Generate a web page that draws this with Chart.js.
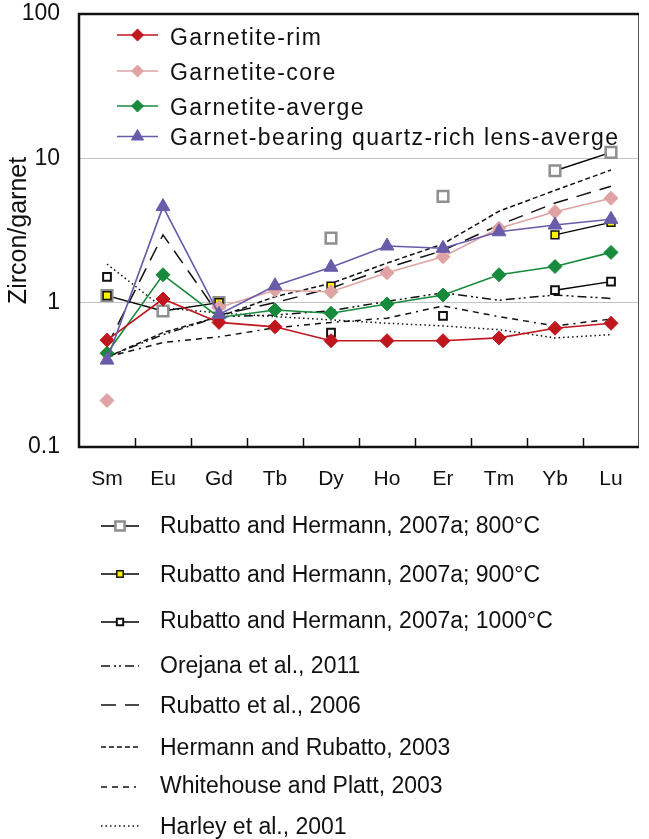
<!DOCTYPE html>
<html>
<head>
<meta charset="utf-8">
<script src="https://cdn.jsdelivr.net/npm/chart.js@4.4.1/dist/chart.umd.min.js"></script>
<style>
  html, body { margin: 0; padding: 0; background: #fff; }
</style>
</head>
<body>
<canvas id="ree" width="649" height="839"></canvas>
<script>
const elements = ["Sm", "Eu", "Gd", "Tb", "Dy", "Ho", "Er", "Tm", "Yb", "Lu"];
const yTicks = [0.1, 1, 10, 100];

// zircon/garnet partition coefficients, this study
const garnetiteRim  = [0.55, 1.06, 0.73, 0.68, 0.545, 0.545, 0.545, 0.57, 0.665, 0.72];
const garnetiteCore = [0.21, null, 0.93, 1.22, 1.19, 1.61, 2.08, 3.28, 4.27, 5.29];
const garnetiteAvg  = [0.446, 1.56, 0.79, 0.89, 0.845, 0.98, 1.13, 1.56, 1.78, 2.23];
const quartzLensAvg = [0.40, 4.63, 0.83, 1.31, 1.76, 2.47, 2.38, 3.1, 3.45, 3.78];

// literature experiments
const rh800  = [1.12, 0.875, 1.0, null, 2.8, null, 5.45, null, 8.2, 11.0];
const rh900  = [1.12, null, 1.0, null, 1.3, null, null, null, 2.95, 3.6];
const rh1000 = [1.51, null, null, null, 0.62, null, 0.81, null, 1.22, 1.40];

// literature natural samples
const orejana2011    = [0.42, 0.6, 0.8, 0.82, 0.88, 1.02, 1.17, 1.04, 1.13, 1.07];
const rubatto2006    = [0.5, 2.95, 0.82, 1.0, 1.26, 1.74, 2.3, 3.45, 4.9, 6.4];
const hermann2003    = [0.42, 0.62, 0.8, 1.1, 1.36, 1.88, 2.55, 4.3, 6.0, 8.3];
const whitehouse2003 = [0.42, 0.53, 0.58, 0.67, 0.73, 0.78, 0.95, 0.8, 0.69, 0.77];
const harley2001     = [1.85, 0.92, 0.85, 0.8, 0.76, 0.72, 0.69, 0.65, 0.57, 0.6];

const RED = "#C0161E", PINK = "#DFA3A3", GREEN = "#178A3C", PURPLE = "#6A5BAA";
const GREY = "#8F8F8F", YELLOW = "#FFF200";

function refLine(label, data, dash) {
  return {
    label: label, data: data,
    borderColor: "#111", borderWidth: 1.5, borderDash: dash,
    pointRadius: 0, pointHoverRadius: 0, spanGaps: false, order: 20
  };
}
function sample(label, data, color, style, radius, legendRadius) {
  return {
    label: label, data: data,
    borderColor: color, borderWidth: 1.6,
    pointStyle: style, pointRadius: radius, pointBackgroundColor: color,
    pointBorderColor: color, pointBorderWidth: 1, legendRadius: legendRadius,
    spanGaps: false, order: 1
  };
}
function experiment(label, data, fill, edge, radius, edgeWidth, legendRadius, order) {
  return {
    label: label, data: data,
    borderColor: "#000", borderWidth: 1.4,
    pointStyle: "rect", pointRadius: radius, pointBackgroundColor: fill,
    pointBorderColor: edge, pointBorderWidth: edgeWidth, legendRadius: legendRadius,
    spanGaps: false, order: order
  };
}

const datasets = [
  sample("Garnetite-rim", garnetiteRim, RED, "rectRot", 7, 6),
  sample("Garnetite-core", garnetiteCore, PINK, "rectRot", 7, 6),
  sample("Garnetite-averge", garnetiteAvg, GREEN, "rectRot", 7, 6),
  Object.assign(sample("Garnet-bearing quartz-rich lens-averge", quartzLensAvg, PURPLE, "triangle", 8, 7), { order: 0 }),
  experiment("Rubatto and Hermann, 2007a; 800°C", rh800, "#fff", GREY, 7.5, 2.5, 6.5, 12),
  experiment("Rubatto and Hermann, 2007a; 900°C", rh900, YELLOW, "#111", 5.5, 1.5, 4.5, 11),
  experiment("Rubatto and Hermann, 2007a; 1000°C", rh1000, "#fff", "#111", 5.5, 2, 4.5, 10),
  refLine("Orejana et al., 2011", orejana2011, [9, 4, 2, 3, 2, 4]),
  refLine("Rubatto et al., 2006", rubatto2006, [15, 9]),
  refLine("Hermann and Rubatto, 2003", hermann2003, [5, 3]),
  refLine("Whitehouse and Platt, 2003", whitehouse2003, [6, 5, 6, 5, 6, 5, 2, 5]),
  refLine("Harley et al., 2001", harley2001, [1.5, 3])
];

const FONT = '"Liberation Sans", Arial, sans-serif';

function drawKey(ctx, ds, x0, x1, y, textX, textY, letterSpacing) {
  ctx.save();
  ctx.strokeStyle = ds.borderColor;
  ctx.lineWidth = ds.borderWidth;
  ctx.setLineDash(ds.borderDash || []);
  ctx.beginPath();
  ctx.moveTo(x0, y);
  ctx.lineTo(x1, y);
  ctx.stroke();
  ctx.setLineDash([]);
  if (ds.pointRadius > 0) {
    ctx.fillStyle = ds.pointBackgroundColor;
    ctx.strokeStyle = ds.pointBorderColor;
    ctx.lineWidth = ds.pointBorderWidth;
    Chart.helpers.drawPoint(ctx, {
      pointStyle: ds.pointStyle, rotation: 0,
      radius: ds.legendRadius, borderWidth: ds.pointBorderWidth
    }, (x0 + x1) / 2, y);
  }
  ctx.letterSpacing = letterSpacing;
  ctx.fillStyle = "#111";
  ctx.font = "23px " + FONT;
  ctx.textAlign = "left";
  ctx.textBaseline = "alphabetic";
  ctx.fillText(ds.label, textX, textY);
  ctx.restore();
}

// keep the plot box fixed regardless of label overhang
function noOverhang(scale) {
  scale.paddingTop = 0;
  scale.paddingBottom = 0;
  scale.paddingLeft = 0;
  scale.paddingRight = 0;
}

const framePlugin = {
  id: "frame",
  afterDatasetsDraw(chart) {
    const ctx = chart.ctx, a = chart.chartArea, x = chart.scales.x;
    ctx.save();
    ctx.strokeStyle = "#111";
    ctx.lineWidth = 1.5;
    // inward tick marks between the element columns
    for (let i = 1; i < elements.length; i++) {
      const px = Math.round((x.getPixelForValue(i - 1) + x.getPixelForValue(i)) / 2) + 0.5;
      ctx.beginPath();
      ctx.moveTo(px, a.bottom);
      ctx.lineTo(px, a.bottom - 9);
      ctx.stroke();
    }
    // box around the plot
    ctx.strokeStyle = "#555";
    ctx.lineWidth = 1;
    ctx.beginPath();
    ctx.moveTo(a.right - 0.5, a.top);
    ctx.lineTo(a.right - 0.5, a.bottom);
    ctx.stroke();
    ctx.strokeStyle = "#111";
    ctx.lineWidth = 2.5;
    ctx.beginPath();
    ctx.moveTo(a.right, a.top);
    ctx.lineTo(a.left, a.top);
    ctx.lineTo(a.left, a.bottom);
    ctx.lineTo(a.right, a.bottom);
    ctx.stroke();
    ctx.restore();
  },
  afterDraw(chart) {
    const ctx = chart.ctx;
    const ds = chart.data.datasets;
    const topRows = [[35, 45], [71, 80], [106, 115], [136.5, 145]];
    for (let i = 0; i < 4; i++) {
      drawKey(ctx, ds[i], 117, 158, topRows[i][0], 170, topRows[i][1], "1.4px");
    }
    const bottomRows = [[526, 533], [574, 582], [622, 628], [666, 673],
                        [705, 713], [747, 755], [787, 793], [826, 834]];
    for (let i = 4; i < ds.length; i++) {
      drawKey(ctx, ds[i], 101, 139, bottomRows[i - 4][0], 160, bottomRows[i - 4][1], "0px");
    }
  }
};

new Chart(document.getElementById("ree"), {
  type: "line",
  data: { labels: elements, datasets: datasets },
  plugins: [framePlugin],
  options: {
    responsive: false,
    animation: false,
    events: [],
    layout: { padding: { top: 14, right: 2, left: 0, bottom: 0 } },
    plugins: { legend: { display: false }, tooltip: { enabled: false } },
    scales: {
      x: {
        type: "category",
        offset: true,
        grid: { display: false, drawTicks: false },
        border: { display: false },
        ticks: { color: "#111", font: { family: FONT, size: 21 }, padding: 20, maxRotation: 0 },
        afterFit(scale) { scale.height = 392; noOverhang(scale); }
      },
      y: {
        type: "logarithmic",
        min: 0.1,
        max: 100,
        afterBuildTicks(scale) { scale.ticks = yTicks.map(v => ({ value: v, major: true })); },
        afterFit(scale) { scale.width = 79; noOverhang(scale); },
        grid: {
          drawTicks: false,
          color: ctx => (ctx.tick && (ctx.tick.value === 1 || ctx.tick.value === 10)) ? "#c4c4c4" : "rgba(0,0,0,0)",
          lineWidth: 1
        },
        border: { display: false },
        ticks: {
          color: "#111",
          font: { family: FONT, size: 23 },
          padding: 19,
          callback: v => String(v)
        },
        title: {
          display: true,
          text: "Zircon/garnet",
          color: "#111",
          font: { family: FONT, size: 25 },
          padding: { top: 4, bottom: 0 }
        }
      }
    }
  }
});
</script>
</body>
</html>
